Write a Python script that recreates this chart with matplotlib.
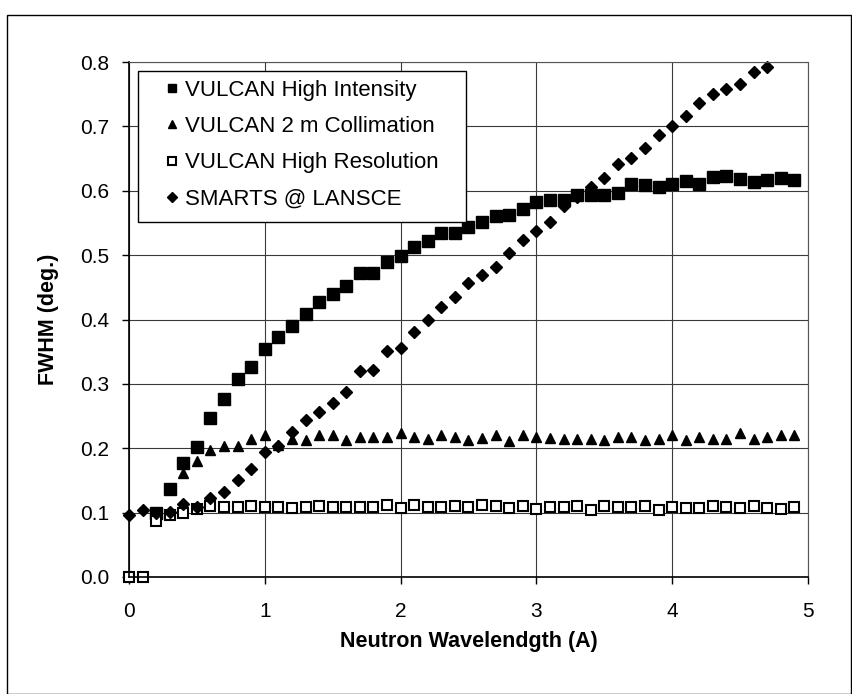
import matplotlib
matplotlib.use("Agg")
import matplotlib.pyplot as plt
from matplotlib.patches import Rectangle

plt.rcParams['font.family'] = ['Liberation Sans', 'DejaVu Sans']

# FWHM vs neutron wavelength
wl_high_int = [0.2, 0.3, 0.4, 0.5, 0.6, 0.7, 0.8, 0.9, 1.0, 1.1, 1.2, 1.3, 1.4, 1.5, 1.6,
               1.7, 1.8, 1.9, 2.0, 2.1, 2.2, 2.3, 2.4, 2.5, 2.6, 2.7, 2.8, 2.9, 3.0, 3.1,
               3.2, 3.3, 3.4, 3.5, 3.6, 3.7, 3.8, 3.9, 4.0, 4.1, 4.2, 4.3, 4.4, 4.5, 4.6,
               4.7, 4.8, 4.9]
fwhm_high_int = [0.100, 0.136, 0.177, 0.202, 0.247, 0.277, 0.307, 0.327, 0.354, 0.373,
                 0.390, 0.409, 0.427, 0.439, 0.452, 0.472, 0.472, 0.490, 0.498, 0.512,
                 0.522, 0.535, 0.535, 0.544, 0.552, 0.561, 0.563, 0.572, 0.583, 0.585,
                 0.585, 0.593, 0.594, 0.594, 0.597, 0.611, 0.609, 0.606, 0.610, 0.615,
                 0.611, 0.621, 0.623, 0.618, 0.614, 0.617, 0.620, 0.617]

wl_collim = [0.2, 0.3, 0.4, 0.5, 0.6, 0.7, 0.8, 0.9, 1.0, 1.1, 1.2, 1.3, 1.4, 1.5, 1.6,
             1.7, 1.8, 1.9, 2.0, 2.1, 2.2, 2.3, 2.4, 2.5, 2.6, 2.7, 2.8, 2.9, 3.0, 3.1,
             3.2, 3.3, 3.4, 3.5, 3.6, 3.7, 3.8, 3.9, 4.0, 4.1, 4.2, 4.3, 4.4, 4.5, 4.6,
             4.7, 4.8, 4.9]
fwhm_collim = [0.100, 0.100, 0.162, 0.180, 0.197, 0.203, 0.204, 0.214, 0.220, 0.205,
               0.215, 0.213, 0.221, 0.221, 0.213, 0.218, 0.217, 0.218, 0.224, 0.217,
               0.214, 0.221, 0.218, 0.213, 0.216, 0.220, 0.211, 0.220, 0.218, 0.216,
               0.214, 0.215, 0.214, 0.213, 0.218, 0.218, 0.213, 0.214, 0.221, 0.213,
               0.217, 0.214, 0.214, 0.224, 0.214, 0.218, 0.220, 0.220]

wl_high_res = [0.0, 0.1, 0.2, 0.3, 0.4, 0.5, 0.6, 0.7, 0.8, 0.9, 1.0, 1.1, 1.2, 1.3, 1.4,
               1.5, 1.6, 1.7, 1.8, 1.9, 2.0, 2.1, 2.2, 2.3, 2.4, 2.5, 2.6, 2.7, 2.8, 2.9,
               3.0, 3.1, 3.2, 3.3, 3.4, 3.5, 3.6, 3.7, 3.8, 3.9, 4.0, 4.1, 4.2, 4.3, 4.4,
               4.5, 4.6, 4.7, 4.8, 4.9]
fwhm_high_res = [0.0, 0.0, 0.087, 0.096, 0.100, 0.106, 0.110, 0.109, 0.108, 0.110,
                 0.109, 0.108, 0.107, 0.108, 0.110, 0.108, 0.109, 0.109, 0.109, 0.112,
                 0.107, 0.112, 0.109, 0.109, 0.110, 0.109, 0.112, 0.110, 0.107, 0.111,
                 0.106, 0.109, 0.109, 0.111, 0.104, 0.110, 0.109, 0.109, 0.110, 0.104,
                 0.109, 0.107, 0.107, 0.110, 0.109, 0.107, 0.110, 0.107, 0.106, 0.109]

wl_smarts = [0.0, 0.1, 0.2, 0.3, 0.4, 0.5, 0.6, 0.7, 0.8, 0.9, 1.0, 1.1, 1.2, 1.3, 1.4,
             1.5, 1.6, 1.7, 1.8, 1.9, 2.0, 2.1, 2.2, 2.3, 2.4, 2.5, 2.6, 2.7, 2.8, 2.9,
             3.0, 3.1, 3.2, 3.3, 3.4, 3.5, 3.6, 3.7, 3.8, 3.9, 4.0, 4.1, 4.2, 4.3, 4.4,
             4.5, 4.6, 4.7]
fwhm_smarts = [0.096, 0.104, 0.100, 0.101, 0.113, 0.109, 0.123, 0.132, 0.150, 0.168,
               0.194, 0.203, 0.226, 0.244, 0.256, 0.270, 0.288, 0.320, 0.322, 0.351,
               0.356, 0.381, 0.399, 0.419, 0.435, 0.456, 0.469, 0.482, 0.504, 0.523,
               0.538, 0.552, 0.576, 0.591, 0.606, 0.620, 0.641, 0.651, 0.667, 0.686,
               0.700, 0.716, 0.736, 0.751, 0.758, 0.766, 0.785, 0.793]

x_ticks = [0, 1, 2, 3, 4, 5]
y_ticks = [0.0, 0.1, 0.2, 0.3, 0.4, 0.5, 0.6, 0.7, 0.8]

fig = plt.figure(figsize=(8.53, 6.94), dpi=100)
ax = fig.add_axes([0.1512, 0.1686, 0.796, 0.742])

ax.plot(wl_high_int, fwhm_high_int, ls='none', marker='s', ms=8.4, color='black',
        clip_on=False, label='VULCAN High Intensity')
ax.plot(wl_collim, fwhm_collim, ls='none', marker='^', ms=7.6, color='black',
        clip_on=False, label='VULCAN 2 m Collimation')
ax.plot(wl_high_res, fwhm_high_res, ls='none', marker='s', ms=6.8, mfc='white',
        mec='black', mew=1.5, clip_on=False, label='VULCAN High Resolution')
ax.plot(wl_smarts, fwhm_smarts, ls='none', marker='D', ms=6.2, color='black',
        clip_on=False, label='SMARTS @ LANSCE')

ax.set_xlim(0, 5)
ax.set_ylim(0, 0.8)
ax.set_xticks(x_ticks)
ax.set_yticks(y_ticks)
ax.set_yticklabels([f'{v:.1f}' for v in y_ticks])
ax.tick_params(axis='x', direction='out', length=5, width=1, pad=13, labelsize=15)
ax.tick_params(axis='y', direction='out', length=5, width=1, pad=9, labelsize=15)
ax.grid(True, color='#3a3a3a', lw=0.8)
ax.set_axisbelow(True)
for side in ['top', 'right']:
    ax.spines[side].set_color('#555555')
    ax.spines[side].set_linewidth(0.8)
for side in ['left', 'bottom']:
    ax.spines[side].set_linewidth(1.2)

ax.set_xlabel('Neutron Wavelendgth (A)', fontsize=15.5, fontweight='bold')
ax.set_ylabel('FWHM (deg.)', fontsize=15.5, fontweight='bold')
ax.xaxis.set_label_coords(0.5, -0.105)
ax.yaxis.set_label_coords(-0.103, 0.5)

# legend: frame drawn separately so marker/text offsets match the original
ax.add_patch(Rectangle((0.0133, 0.689), 0.483, 0.2935, transform=ax.transAxes,
                       facecolor='white', edgecolor='black', lw=1.0, zorder=4))
leg = ax.legend(loc='upper left', bbox_to_anchor=(0.05, 0.965), frameon=False,
                fontsize=16, handlelength=0.8, handletextpad=0.2, borderpad=0,
                labelspacing=0.68, markerscale=0.75, numpoints=1, borderaxespad=0)
leg.set_zorder(5)

# outer chart border
fig.add_artist(Rectangle((0.0082, 0.0), 0.9895, 0.978, transform=fig.transFigure,
                         fill=False, edgecolor='black', lw=1.0))

fig.savefig('out.png', dpi=100)
